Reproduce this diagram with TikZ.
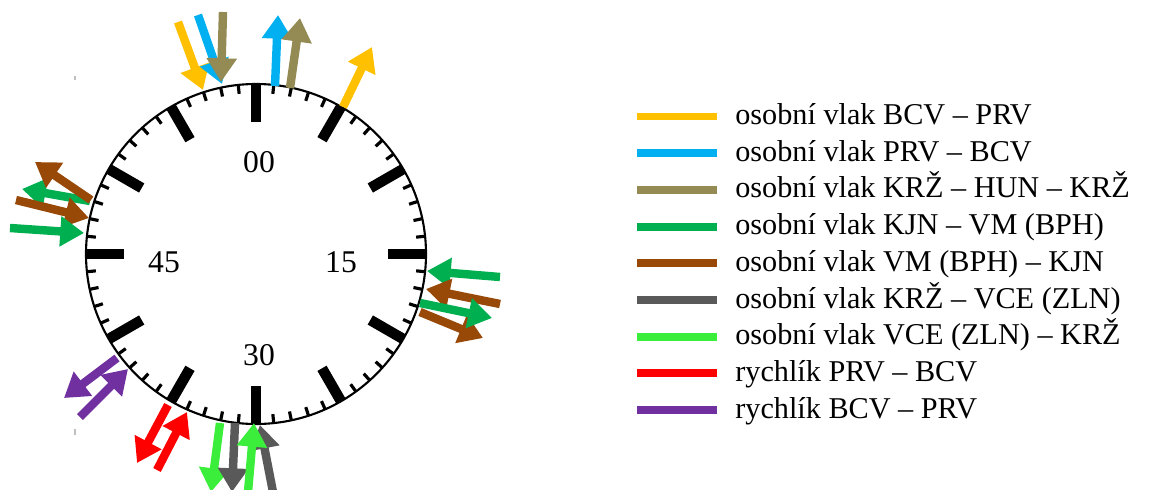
\documentclass[tikz,border=0pt]{standalone}
\usepackage{fontspec}
\setmainfont{Liberation Serif}
\usetikzlibrary{arrows.meta}
\definecolor{cyellow}{HTML}{FFC000}
\definecolor{cblue}{HTML}{00B0F0}
\definecolor{colive}{HTML}{948A54}
\definecolor{cgreen}{HTML}{00B050}
\definecolor{cbrown}{HTML}{984807}
\definecolor{cgray}{HTML}{595959}
\definecolor{clgreen}{HTML}{3CEE3C}
\definecolor{cred}{HTML}{FF0000}
\definecolor{cpurple}{HTML}{7030A0}
\begin{document}
\begin{tikzpicture}[x=0.02cm,y=-0.02cm,
  train/.style={line width=4.8pt, -{Triangle[width=16.5pt,length=13.5pt]}},
  legline/.style={line width=4.5pt},
  legtext/.style={anchor=base west, inner sep=0pt, font=\fontsize{17.2}{20}\selectfont},
  num/.style={font=\fontsize{18}{21}\selectfont, inner sep=0pt},
  majortick/.style={line width=6pt},
  minortick/.style={line width=1.8pt},
  speck/.style={line width=0.8pt, black!25},
]
\useasboundingbox (0,0) rectangle (1170,490);
\coordinate (C) at (256,254);
% clock face
\draw[line width=1.2pt] (C) circle[radius=170];
\foreach \i in {0,...,59} {
  \draw[minortick] ({256+170*sin(6*\i)},{254-170*cos(6*\i)}) -- ({256+161*sin(6*\i)},{254-161*cos(6*\i)});
}
\foreach \a in {0,30,...,330} {
  \draw[majortick] ({256+170*sin(\a)},{254-170*cos(\a)}) -- ({256+132*sin(\a)},{254-132*cos(\a)});
}
\node[num] (n00) at (259,162) {00};
\node[num] (n15) at (341,262) {15};
\node[num] (n30) at (259,355) {30};
\node[num] (n45) at (164,262) {45};
% arrow end points
\coordinate (a1s) at (178,22);  \coordinate (a1e) at (203,90);
\coordinate (a2s) at (198,15);  \coordinate (a2e) at (222,84);
\coordinate (a3s) at (223,12);  \coordinate (a3e) at (221,82);
\coordinate (a4s) at (275,86);  \coordinate (a4e) at (278,15);
\coordinate (a5s) at (290,88);  \coordinate (a5e) at (300,18);
\coordinate (a6s) at (343,107); \coordinate (a6e) at (372,47);
\coordinate (b1s) at (90,201);  \coordinate (b1e) at (22,189);
\coordinate (b2s) at (91,200);  \coordinate (b2e) at (35,162);
\coordinate (b3s) at (16,200);  \coordinate (b3e) at (89,218);
\coordinate (b4s) at (10,228);  \coordinate (b4e) at (84,233);
\coordinate (c1s) at (500,277); \coordinate (c1e) at (427,271);
\coordinate (c2s) at (500,304); \coordinate (c2e) at (426,289);
\coordinate (c3s) at (420,303); \coordinate (c3e) at (492,318);
\coordinate (c4s) at (420,312); \coordinate (c4e) at (483,338);
\coordinate (d1s) at (117,358); \coordinate (d1e) at (64,398);
\coordinate (d2s) at (80,417);  \coordinate (d2e) at (128,369);
\coordinate (e1s) at (168,405); \coordinate (e1e) at (137,463);
\coordinate (e2s) at (157,470); \coordinate (e2e) at (187,412);
\coordinate (f1s) at (220,423); \coordinate (f1e) at (211,492);
\coordinate (f2s) at (235,423); \coordinate (f2e) at (232,492);
\coordinate (f3s) at (248,492); \coordinate (f3e) at (254,423);
\coordinate (f4s) at (273,492); \coordinate (f4e) at (260,425);
% arrows
\draw[train, cyellow] (a1s) -- (a1e);
\draw[train, cblue] (a2s) -- (a2e);
\draw[train, colive] (a3s) -- (a3e);
\draw[train, cblue] (a4s) -- (a4e);
\draw[train, colive] (a5s) -- (a5e);
\draw[train, cyellow] (a6s) -- (a6e);
\draw[train, cgreen] (b1s) -- (b1e);
\draw[train, cbrown] (b2s) -- (b2e);
\draw[train, cbrown] (b3s) -- (b3e);
\draw[train, cgreen] (b4s) -- (b4e);
\draw[train, cgreen] (c1s) -- (c1e);
\draw[train, cbrown] (c2s) -- (c2e);
\draw[train, cbrown] (c4s) -- (c4e);
\draw[train, cgreen] (c3s) -- (c3e);
\draw[train, cpurple] (d1s) -- (d1e);
\draw[train, cpurple] (d2s) -- (d2e);
\draw[train, cred] (e1s) -- (e1e);
\draw[train, cred] (e2s) -- (e2e);
\draw[train, clgreen] (f1s) -- (f1e);
\draw[train, cgray] (f2s) -- (f2e);
\draw[train, cgray] (f4s) -- (f4e);
\draw[train, clgreen] (f3s) -- (f3e);
% specks
\coordinate (s1a) at (75,76); \coordinate (s1b) at (75,80);
\coordinate (s2a) at (75,429); \coordinate (s2b) at (75,435);
\draw[speck] (s1a) -- (s1b);
\draw[speck] (s2a) -- (s2b);
% legend
\foreach \k/\col/\txt in {0/cyellow/{osobní vlak BCV – PRV},
  1/cblue/{osobní vlak PRV – BCV},
  2/colive/{osobní vlak KRŽ – HUN – KRŽ},
  3/cgreen/{osobní vlak KJN – VM (BPH)},
  4/cbrown/{osobní vlak VM (BPH) – KJN},
  5/cgray/{osobní vlak KRŽ – VCE (ZLN)},
  6/clgreen/{osobní vlak VCE (ZLN) – KRŽ},
  7/cred/{rychlík PRV – BCV},
  8/cpurple/{rychlík BCV – PRV}} {
  \coordinate (L\k a) at (637,{116.5+36.7*\k});
  \coordinate (L\k b) at (717,{116.5+36.7*\k});
  \draw[legline, \col] (L\k a) -- (L\k b);
  \node[legtext] (T\k) at (735,{124.5+36.7*\k}) {\txt};
}
\end{tikzpicture}
\end{document}
